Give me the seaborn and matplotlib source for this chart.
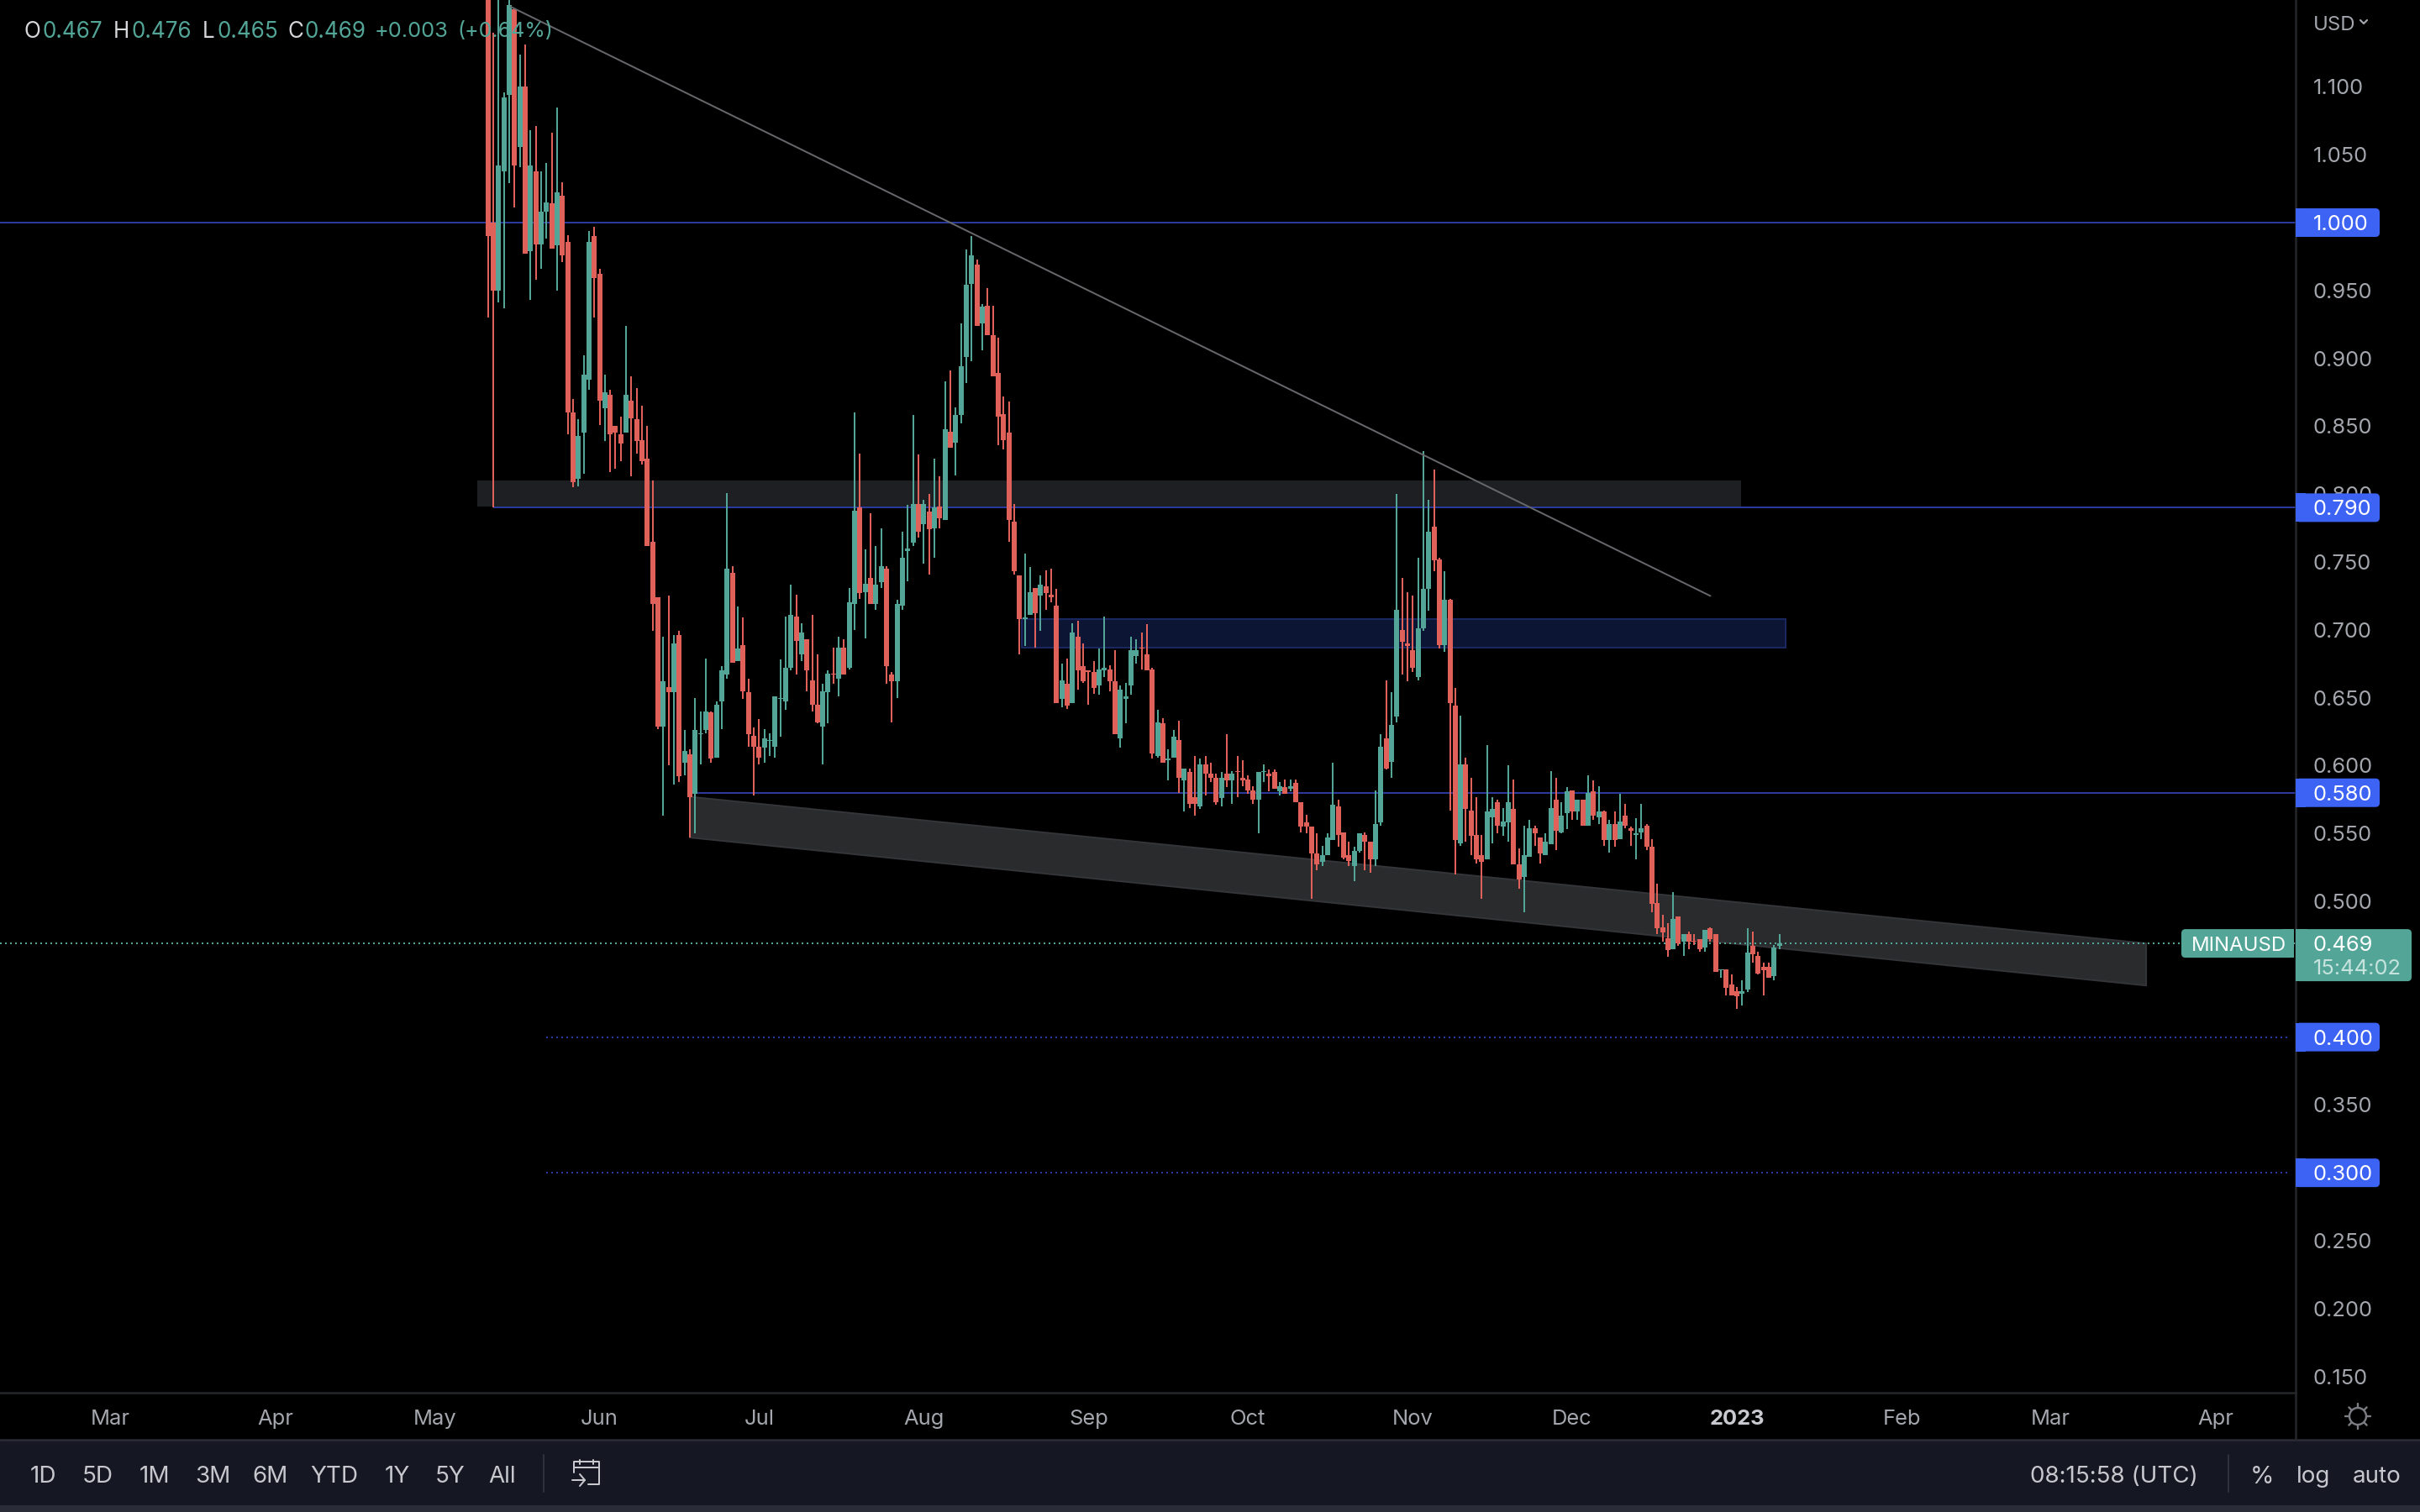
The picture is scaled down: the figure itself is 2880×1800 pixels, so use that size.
import matplotlib
matplotlib.use("Agg")
import matplotlib.dates as mdates
import matplotlib.pyplot as plt
from matplotlib.patches import Circle, FancyBboxPatch, Polygon, Rectangle
import numpy as np
import pandas as pd
import seaborn as sns

# daily MINAUSD candles, first one is 2022-05-11
first_day = "2022-05-11"
opens = [
    1.22, 1.000, .950, 1.038, 1.094, 1.157, 1.056, 1.100, .979, 1.038,
    .984, 1.008, 1.014, .983, 1.020, .986, .860, .811, .845, .884,
    .990, .962, .863, .873, .850, .844, .845, .869, .855, .840,
    .826, .765, .724, .629, .658, .654, .696, .602, .608, .579,
    .623, .626, .639, .606, .647, .667, .742, .677, .689, .654,
    .622, .614, .613, .618, .614, .649, .647, .672, .710, .682,
    .693, .663, .645, .629, .654, .668, .664, .687, .672, .719,
    .790, .728, .738, .719, .735, .745, .667, .662, .718, .758,
    .764, .793, .778, .787, .775, .791, .781, .846, .838, .858,
    .901, .955, .969, .926, .939, .917, .889, .859, .845, .780,
    .740, .708, .711, .731, .725, .732, .726, .718, .649, .660,
    .646, .695, .673, .670, .669, .659, .670, .671, .662, .620,
    .649, .659, .681, .687, .682, .671, .607, .631, .604, .606,
    .619, .589, .595, .577, .570, .601, .594, .591, .576, .594,
    .589, .596, .591, .590, .582, .575, .595, .594, .595, .581,
    .584, .583, .587, .573, .558, .555, .535, .529, .534, .545,
    .570, .551, .534, .526, .537, .549, .544, .531, .558, .620,
    .603, .636, .700, .690, .685, .665, .701, .730, .776, .752,
    .689, .722, .644, .543, .601, .567, .549, .534, .531, .562,
    .573, .555, .558, .568, .527, .518, .533, .554, .547, .534,
    .542, .575, .551, .565, .582, .566, .575, .556, .581, .562,
    .566, .545, .557, .546, .563, .554, .549, .551, .556, .540,
    .499, .481, .473, .465, .489, .470, .476, .471, .472, .466,
    .480, .476, .449, .450, .439, .434, .432, .435, .467, .460,
    .452, .452, .445, .467,
]
highs = [
    1.25, 1.140, 1.18, 1.096, 1.17, 1.158, 1.124, 1.131, 1.068, 1.071,
    1.038, 1.044, 1.066, 1.085, 1.030, .991, .870, .855, .902, .994,
    .997, .966, .888, .877, .850, .857, .924, .887, .878, .865,
    .850, .810, .724, .695, .725, .696, .699, .626, .612, .650,
    .640, .679, .640, .647, .673, .801, .747, .717, .709, .664,
    .628, .634, .627, .624, .651, .678, .710, .733, .726, .705,
    .693, .711, .682, .660, .670, .687, .695, .693, .731, .860,
    .830, .759, .786, .762, .775, .747, .669, .722, .772, .792,
    .858, .829, .796, .800, .826, .813, .883, .891, .864, .926,
    .980, .990, .973, .940, .952, .939, .915, .872, .868, .793,
    .740, .756, .746, .731, .740, .744, .745, .730, .675, .679,
    .705, .707, .690, .670, .677, .686, .710, .674, .685, .659,
    .661, .695, .693, .698, .704, .672, .641, .635, .612, .626,
    .633, .598, .598, .607, .605, .607, .602, .594, .595, .623,
    .596, .607, .604, .593, .585, .595, .601, .597, .597, .588,
    .590, .590, .590, .573, .564, .555, .550, .541, .550, .602,
    .575, .551, .544, .540, .550, .551, .544, .582, .623, .663,
    .654, .800, .738, .728, .725, .753, .832, .796, .818, .753,
    .743, .723, .657, .637, .606, .591, .577, .549, .615, .577,
    .575, .569, .600, .590, .539, .556, .560, .556, .547, .550,
    .596, .591, .573, .584, .582, .575, .575, .593, .589, .585,
    .567, .560, .566, .579, .572, .555, .561, .572, .557, .546,
    .513, .490, .484, .507, .489, .476, .478, .476, .472, .479,
    .481, .476, .450, .450, .446, .437, .442, .480, .478, .463,
    .455, .455, .468, .476,
]
lows = [
    .930, .790, .941, .937, 1.029, 1.011, 1.041, .977, .943, .958,
    .966, .988, .981, .950, .971, .844, .805, .806, .815, .877,
    .930, .851, .839, .816, .819, .824, .845, .813, .830, .822,
    .762, .699, .627, .563, .600, .586, .588, .593, .547, .550,
    .601, .624, .602, .606, .627, .664, .676, .677, .649, .614,
    .578, .601, .602, .607, .606, .621, .641, .670, .667, .677,
    .655, .640, .631, .601, .631, .660, .651, .667, .671, .700,
    .723, .694, .719, .715, .731, .660, .632, .650, .715, .736,
    .762, .768, .749, .741, .753, .775, .781, .834, .814, .852,
    .882, .898, .924, .906, .917, .887, .836, .833, .765, .741,
    .682, .688, .711, .687, .699, .715, .720, .646, .643, .642,
    .646, .656, .661, .645, .653, .652, .665, .655, .623, .613,
    .631, .652, .675, .671, .670, .605, .606, .602, .589, .606,
    .580, .566, .569, .563, .568, .578, .588, .571, .570, .584,
    .572, .577, .585, .579, .572, .550, .588, .581, .583, .578,
    .579, .581, .573, .551, .550, .502, .523, .526, .534, .545,
    .540, .531, .526, .515, .536, .523, .521, .526, .556, .597,
    .591, .632, .667, .662, .669, .663, .699, .714, .743, .686,
    .684, .567, .520, .541, .544, .534, .528, .502, .531, .543,
    .550, .548, .544, .527, .509, .492, .533, .541, .528, .534,
    .542, .538, .550, .553, .560, .560, .556, .556, .560, .557,
    .541, .536, .540, .546, .554, .541, .531, .546, .538, .492,
    .476, .470, .459, .465, .467, .460, .465, .468, .463, .463,
    .470, .448, .444, .431, .431, .421, .423, .433, .455, .446,
    .431, .444, .442, .465,
]
closes = [
    .990, .950, 1.042, 1.092, 1.160, 1.042, 1.100, .977, 1.042, .984,
    1.008, 1.015, .981, 1.022, .976, .860, .809, .843, .888, .986,
    .959, .869, .875, .844, .845, .837, .873, .856, .839, .824,
    .762, .719, .629, .662, .654, .690, .592, .611, .577, .626,
    .624, .640, .605, .645, .670, .745, .676, .686, .655, .623,
    .614, .606, .620, .619, .651, .650, .672, .711, .692, .698,
    .670, .645, .632, .655, .668, .667, .687, .667, .720, .788,
    .727, .734, .719, .733, .747, .673, .662, .719, .753, .760,
    .793, .772, .793, .774, .790, .782, .848, .834, .858, .894,
    .954, .976, .924, .938, .917, .887, .857, .840, .781, .743,
    .708, .709, .728, .712, .733, .727, .724, .646, .663, .644,
    .698, .670, .662, .669, .657, .671, .672, .662, .623, .656,
    .651, .685, .685, .686, .670, .609, .632, .602, .605, .621,
    .591, .598, .572, .572, .601, .594, .591, .573, .591, .589,
    .594, .595, .589, .582, .575, .595, .596, .592, .583, .585,
    .579, .585, .573, .555, .555, .535, .527, .534, .547, .571,
    .549, .532, .530, .537, .550, .544, .531, .557, .614, .598,
    .630, .715, .691, .688, .672, .701, .730, .772, .751, .689,
    .722, .646, .545, .601, .568, .548, .531, .529, .566, .568,
    .556, .559, .573, .527, .516, .534, .554, .550, .535, .544,
    .569, .552, .563, .581, .566, .575, .556, .580, .563, .566,
    .545, .557, .545, .559, .556, .552, .550, .554, .540, .498,
    .480, .477, .464, .487, .469, .476, .470, .470, .465, .479,
    .472, .448, .450, .436, .431, .430, .434, .462, .461, .447,
    .449, .444, .466, .469,
]

# drawings on the chart
solid_levels = [1.000, 0.790, 0.580]
solid_starts = [None, "2022-05-12", "2022-06-19"]
dotted_levels = [0.400, 0.300]
dotted_start = "2022-05-22"
last_price = 0.469
zone_gray = ["2022-05-09", "2023-01-01 19:00", 0.791, 0.810]
zone_blue = ["2022-08-19 10:00", "2023-01-10 05:00", 0.687, 0.708]
channel_days = ["2022-06-18", "2023-03-19"]
channel_top = [0.577, 0.469]
channel_bottom = [0.547, 0.438]
trend_days = ["2022-05-15 07:00", "2022-12-27"]
trend_prices = [1.159, 0.725]

# 0.300, 0.400, 0.450 and 1.000 sit under the price tags, so they get no tick label
y_ticks = [0.15, 0.20, 0.25, 0.35, 0.50, 0.55, 0.60, 0.65, 0.70, 0.75, 0.80, 0.85, 0.90, 0.95, 1.05, 1.10]
month_days = ["2022-03-01", "2022-04-01", "2022-05-01", "2022-06-01", "2022-07-01", "2022-08-01",
              "2022-09-01", "2022-10-01", "2022-11-01", "2022-12-01", "2023-01-01", "2023-02-01",
              "2023-03-01", "2023-04-01"]
month_labels = ["Mar", "Apr", "May", "Jun", "Jul", "Aug", "Sep", "Oct", "Nov", "Dec", "2023", "Feb", "Mar", "Apr"]
range_labels = ["1D", "5D", "1M", "3M", "6M", "YTD", "1Y", "5Y", "All"]
range_x = [51, 116, 184, 253, 322, 398, 473, 536, 598]

TEAL = "#53a597"
RED = "#e0605a"
LEVEL = "#2a3a9c"
TAG = "#3d63f5"
AXIS_TEXT = "#a3a6ad"
RULE = "#26272a"
W, H = 2880, 1800
PANE_W, PANE_H = 2732, 1658


def px(n):
    return n * 72 / 200


def day_num(d):
    return mdates.date2num(pd.Timestamp(d))


sns.set_theme(style="dark", rc={"axes.facecolor": "black", "figure.facecolor": "black"})
plt.rcParams["font.family"] = ["Inter", "DejaVu Sans"]

days = pd.date_range(first_day, periods=len(opens), freq="D")
df = pd.DataFrame({"day": mdates.date2num(days), "open": opens, "high": highs, "low": lows, "close": closes})
df["candle"] = np.arange(len(df))
df["side"] = np.where(df["close"] >= df["open"], "up", "down")
wicks = df.melt(id_vars=["candle", "day", "side"], value_vars=["high", "low"], value_name="price")
bodies = df.melt(id_vars=["candle", "day", "side"], value_vars=["open", "close"], value_name="price")
colors = {"up": TEAL, "down": RED}

fig = plt.figure(figsize=(W / 200, H / 200), dpi=200)
ax = fig.add_axes([0, 1 - PANE_H / H, PANE_W / W, PANE_H / H])

# gray and blue zones, channel
day0 = day_num("2022-03-01")
per_day = 6.325
ax.set_xlim(day0 - 131.6 / per_day, day0 + (PANE_W - 131.6) / per_day)
ax.set_ylim(0.138, 1.164)

ax.add_patch(Rectangle((day_num(zone_gray[0]), zone_gray[2]), day_num(zone_gray[1]) - day_num(zone_gray[0]),
                       zone_gray[3] - zone_gray[2], fc="#1e1f22", ec="none", zorder=1))
ax.add_patch(Rectangle((day_num(zone_blue[0]), zone_blue[2]), day_num(zone_blue[1]) - day_num(zone_blue[0]),
                       zone_blue[3] - zone_blue[2], fc="#0c1533", ec="#1b2760", lw=px(2), zorder=1))
ch_x = [day_num(d) for d in channel_days]
ax.add_patch(Polygon([(ch_x[0], channel_top[0]), (ch_x[1], channel_top[1]),
                      (ch_x[1], channel_bottom[1]), (ch_x[0], channel_bottom[0])],
                     closed=True, fc="#2a2b2d", ec="#343538", lw=px(2), zorder=1))

for level, start in zip(solid_levels, solid_starts):
    left = ax.get_xlim()[0] if start is None else day_num(start)
    ax.hlines(level, left, ax.get_xlim()[1], color=LEVEL, lw=px(2), zorder=1.5)
for level in dotted_levels:
    ax.hlines(level, day_num(dotted_start), ax.get_xlim()[1] - 1, color=LEVEL, lw=px(2),
              linestyles=[(0, (1, 2))], zorder=1.5)
ax.axhline(last_price, color=TEAL, lw=px(2), ls=(0, (1, 2)), zorder=1.5)

sns.lineplot(data=wicks, x="day", y="price", units="candle", estimator=None, hue="side", palette=colors,
             sort=False, legend=False, lw=px(2), solid_capstyle="butt", ax=ax, zorder=2)
sns.lineplot(data=bodies, x="day", y="price", units="candle", estimator=None, hue="side", palette=colors,
             sort=False, legend=False, lw=px(6), solid_capstyle="butt", ax=ax, zorder=2.5)

ax.plot([day_num(d) for d in trend_days], trend_prices, color="#66676b", lw=px(2), zorder=3)

ax.set_xlabel("")
ax.set_ylabel("")
ax.yaxis.tick_right()
ax.set_yticks(y_ticks)
ax.set_yticklabels([f"{v:.3f}" for v in y_ticks])
ax.set_xticks([day_num(d) for d in month_days])
ax.set_xticklabels(month_labels)
ax.tick_params(axis="y", length=0, pad=px(21), labelsize=9.2, labelcolor=AXIS_TEXT)
ax.tick_params(axis="x", length=0, pad=px(20), labelsize=9.2, labelcolor=AXIS_TEXT)
for lab in ax.get_xticklabels():
    if lab.get_text() == "2023":
        lab.set_fontweight("bold")
        lab.set_color("#c8cad0")
ax.grid(False)
for name, spine in ax.spines.items():
    spine.set_visible(name in ("right", "bottom"))
    spine.set_color(RULE)
    spine.set_linewidth(px(2.5))

# everything around the chart, in figure pixels
ui = fig.add_axes([0, 0, 1, 1], zorder=5)
ui.set_xlim(0, W)
ui.set_ylim(H, 0)
ui.axis("off")

ui.add_patch(Rectangle((0, 1715), W, 77, fc="#151822", ec="none"))
ui.add_patch(Rectangle((0, 1792), W, 8, fc="#2a2d38", ec="none"))
ui.plot([0, W], [1714, 1714], color="#2a2d38", lw=px(2.5))
ui.plot([PANE_W, PANE_W], [1658, 1714], color=RULE, lw=px(2.5))


def price_y(p):
    return H - ax.transData.transform((0, p))[1]


def tag(x0, x1, y0, y1, color):
    ui.add_patch(FancyBboxPatch((x0, y0), x1 - x0, y1 - y0, boxstyle="round,pad=0,rounding_size=5",
                                fc=color, ec="none", zorder=6))


for level in [1.000, 0.790, 0.580, 0.400, 0.300]:
    y = price_y(level)
    tag(PANE_W, 2832, y - 17, y + 17, TAG)
    ui.add_patch(Rectangle((PANE_W, y - 17), 12, 34, fc=TAG, ec="none", zorder=6))
    ui.text(2753, y, f"{level:.3f}", color="white", fontsize=9.2, va="center_baseline", ha="left", zorder=7)

y = price_y(last_price)
tag(2596, 2730, y - 17, y + 17, TEAL)
ui.add_patch(Rectangle((2716, y - 17), 14, 34, fc=TEAL, ec="none", zorder=6))
ui.text(2608, y, "MINAUSD", color="white", fontsize=8.6, va="center_baseline", ha="left", zorder=7)
tag(PANE_W, 2870, y - 17, y + 45, TEAL)
ui.add_patch(Rectangle((PANE_W, y - 17), 14, 62, fc=TEAL, ec="none", zorder=6))
ui.text(2753, y, "0.469", color="white", fontsize=9.2, va="center_baseline", ha="left", zorder=7)
ui.text(2753, y + 28, "15:44:02", color="#c6e3de", fontsize=9.2, va="center_baseline", ha="left", zorder=7)

ui.text(2753, 28, "USD", color=AXIS_TEXT, fontsize=8.6, va="center_baseline", ha="left")
ui.plot([2809, 2813, 2817], [24, 28, 24], color=AXIS_TEXT, lw=px(2.2))

# OHLC line at the top left
head_labels = ["O", "H", "L", "C"]
head_x = [29, 135, 241, 342]
head_vals = ["0.467", "0.476", "0.465", "0.469"]
head_val_x = [50, 157, 259, 362]
for s, x in zip(head_labels, head_x):
    ui.text(x, 35, s, color="#d6d7db", fontsize=9.4, va="center_baseline", ha="left", zorder=7)
for s, x in zip(head_vals, head_val_x):
    ui.text(x, 35, s, color=TEAL, fontsize=9.4, va="center_baseline", ha="left", zorder=7)
ui.text(446, 35, "+0.003", color=TEAL, fontsize=9.2, va="center_baseline", ha="left", zorder=7)
ui.text(544, 35, "(+0.64%)", color=TEAL, fontsize=9.0, va="center_baseline", ha="left", zorder=7)

# bottom toolbar
for s, x in zip(range_labels, range_x):
    ui.text(x, 1755, s, color="#c6c8ce", fontsize=10, va="center_baseline", ha="center")
for x in (647, 2652):
    ui.plot([x, x], [1732, 1776], color="#2f323c", lw=px(2))
ui.text(2516, 1755, "08:15:58 (UTC)", color="#c6c8ce", fontsize=10, va="center_baseline", ha="center")
ui.text(2692, 1755, "%", color="#c6c8ce", fontsize=10.5, va="center_baseline", ha="center")
ui.text(2753, 1755, "log", color="#c6c8ce", fontsize=10, va="center_baseline", ha="center")
ui.text(2829, 1755, "auto", color="#c6c8ce", fontsize=10, va="center_baseline", ha="center")

# calendar icon
ic = "#c6c8ce"
ui.plot([683, 683, 713, 713, 700], [1753, 1740, 1740, 1767, 1767], color=ic, lw=px(2))
ui.plot([683, 713], [1747, 1747], color=ic, lw=px(2))
ui.plot([690, 690], [1738, 1743], color=ic, lw=px(2))
ui.plot([706, 706], [1738, 1743], color=ic, lw=px(2))
ui.plot([681, 696], [1762, 1762], color=ic, lw=px(2))
ui.plot([690, 696, 690], [1755, 1762, 1769], color=ic, lw=px(2))

# theme icon
sun = (2806, 1686)
ui.add_patch(Circle(sun, 10, fc="none", ec="#7b7d83", lw=px(2.4)))
for a in np.arange(0, 360, 45):
    dx, dy = np.cos(np.radians(a)), np.sin(np.radians(a))
    ui.plot([sun[0] + 11 * dx, sun[0] + 15 * dx], [sun[1] + 11 * dy, sun[1] + 15 * dy], color="#7b7d83", lw=px(2.4))

fig.savefig("out.png", dpi=200, facecolor="black")
